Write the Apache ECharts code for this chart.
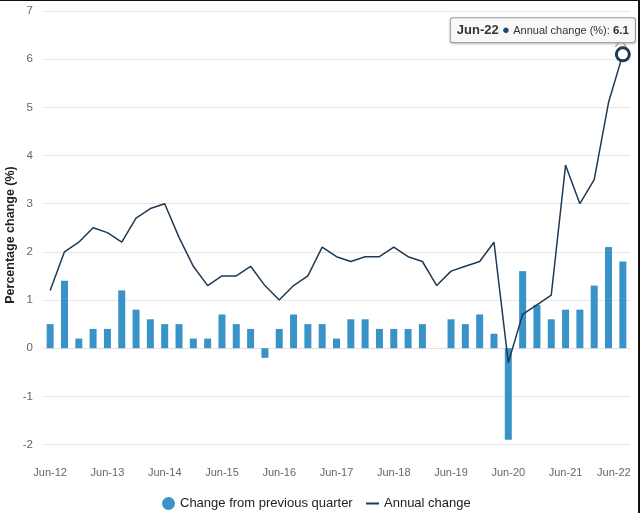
<!DOCTYPE html>
<html>
<head>
<meta charset="utf-8">
<script src="https://cdn.jsdelivr.net/npm/echarts@6/dist/echarts.min.js"></script>
<style>
html,body{margin:0;padding:0;background:#fff;}
#chart{width:640px;height:513px;}
</style>
</head>
<body>
<div id="chart"></div>
<script>
const categories = [
  'Jun-12','Sep-12','Dec-12','Mar-13','Jun-13','Sep-13','Dec-13','Mar-14',
  'Jun-14','Sep-14','Dec-14','Mar-15','Jun-15','Sep-15','Dec-15','Mar-16',
  'Jun-16','Sep-16','Dec-16','Mar-17','Jun-17','Sep-17','Dec-17','Mar-18',
  'Jun-18','Sep-18','Dec-18','Mar-19','Jun-19','Sep-19','Dec-19','Mar-20',
  'Jun-20','Sep-20','Dec-20','Mar-21','Jun-21','Sep-21','Dec-21','Mar-22',
  'Jun-22'
];
const quarterlyChange = [
  0.5,1.4,0.2,0.4,0.4,1.2,0.8,0.6,
  0.5,0.5,0.2,0.2,0.7,0.5,0.4,-0.2,
  0.4,0.7,0.5,0.5,0.2,0.6,0.6,0.4,
  0.4,0.4,0.5,0.0,0.6,0.5,0.7,0.3,
  -1.9,1.6,0.9,0.6,0.8,0.8,1.3,2.1,
  1.8
];
const annualChange = [
  1.2,2.0,2.2,2.5,2.4,2.2,2.7,2.9,
  3.0,2.3,1.7,1.3,1.5,1.5,1.7,1.3,
  1.0,1.3,1.5,2.1,1.9,1.8,1.9,1.9,
  2.1,1.9,1.8,1.3,1.6,1.7,1.8,2.2,
  -0.3,0.7,0.9,1.1,3.8,3.0,3.5,5.1,
  6.1
];
const yMin = -2.3, yMax = 7;
const seriesNames = ['Change from previous quarter', 'Annual change'];

const lastIdx = categories.length - 1;
const chart = echarts.init(document.getElementById('chart'), null, {renderer: 'canvas'});

const FONT = '"Liberation Sans", Arial, Helvetica, sans-serif';
// split line colours: only integer ticks get a visible line
const splitColors = [];
for (let k = 0; k < 10; k++) splitColors.push(k === 3 ? '#e6e6e6' : 'rgba(0,0,0,0)');

const option = {
  animation: false,
  textStyle: {fontFamily: FONT},
  grid: {left: 43, right: 10, top: 11, bottom: 54, containLabel: false, outerBoundsMode: 'none'},
  legend: [
    {
      left: 157, top: 492,
      itemWidth: 13, itemHeight: 13,
      textStyle: {fontSize: 13, color: '#222', fontFamily: FONT},
      data: [{name: seriesNames[0], icon: 'circle'}]
    },
    {
      left: 361, top: 492,
      itemWidth: 13, itemHeight: 2, itemGap: 5,
      textStyle: {fontSize: 13, color: '#222', fontFamily: FONT},
      data: [{name: seriesNames[1], icon: 'rect'}]
    }
  ],
  xAxis: {
    type: 'category',
    data: categories,
    boundaryGap: true,
    axisLine: {show: true, lineStyle: {color: '#e3e3e3', width: 1}},
    axisTick: {show: false},
    axisLabel: {
      interval: 3,
      color: '#666',
      fontSize: 11,
      margin: 8,
      fontFamily: FONT,
      formatter: function (v, i) {
        return i === lastIdx ? '{r|' + v + '}' : v;
      },
      rich: {r: {padding: [0, 18, 0, 0], color: '#666', fontSize: 11, fontFamily: FONT}}
    },
    splitLine: {show: false}
  },
  yAxis: {
    type: 'value',
    min: yMin, max: yMax, interval: 0.1,
    name: 'Percentage change (%)',
    nameLocation: 'middle',
    nameGap: 26,
    nameMoveOverlap: false,
    nameTextStyle: {fontSize: 12.5, fontWeight: 'bold', color: '#222', fontFamily: FONT},
    axisLine: {show: false},
    axisTick: {show: false},
    axisLabel: {
      color: '#666', fontSize: 11.5, margin: 10, fontFamily: FONT,
      formatter: function (v) {
        const r = Math.round(v);
        return Math.abs(v - r) < 1e-6 ? String(r) : '';
      }
    },
    splitLine: {show: true, lineStyle: {color: splitColors, width: 1}}
  },
  series: [
    {
      name: seriesNames[0],
      type: 'bar',
      data: quarterlyChange,
      barWidth: 7,
      itemStyle: {color: '#3a93c8'},
      z: 2
    },
    {
      name: seriesNames[1],
      type: 'line',
      data: annualChange,
      symbol: 'none',
      lineStyle: {color: '#1e3a55', width: 1.5},
      itemStyle: {color: '#1e3a55'},
      z: 3,
      markPoint: {
        silent: true,
        data: [
          {
            coord: [lastIdx, annualChange[lastIdx]],
            symbol: 'path://M0,10 L6,0 L12,10',
            symbolSize: [11, 7],
            symbolOffset: [-2, -11],
            itemStyle: {color: '#f8f8f8', borderColor: '#9a9a9a', borderWidth: 1},
            label: {show: false}
          },
          {
            coord: [lastIdx, annualChange[lastIdx]],
            symbol: 'circle',
            symbolSize: 13,
            itemStyle: {color: '#fff', borderColor: '#1e3a55', borderWidth: 3},
            label: {
              show: true,
              position: 'top',
              distance: 4,
              offset: [-80, 0],
              backgroundColor: '#f8f8f8',
              borderColor: '#9a9a9a',
              borderWidth: 1,
              borderRadius: 2,
              padding: [6, 6, 5, 6],
              shadowColor: 'rgba(0,0,0,0.15)',
              shadowBlur: 3,
              shadowOffsetY: 1,
              formatter: '{d|' + categories[lastIdx] + '} {dot|●} {t|' + seriesNames[1] + ' (%): }{v|' + annualChange[lastIdx].toFixed(1) + '}',
              rich: {
                d: {fontSize: 13, fontWeight: 'bold', color: '#333', fontFamily: FONT},
                dot: {fontSize: 13, color: '#1c4b73', fontFamily: FONT},
                t: {fontSize: 11, color: '#333', fontFamily: FONT},
                v: {fontSize: 11.5, fontWeight: 'bold', color: '#333', fontFamily: FONT}
              }
            }
          }
        ]
      }
    }
  ],
  graphic: [
    {type: 'rect', left: 0, top: 0, shape: {width: 640, height: 1}, style: {fill: '#111'}, silent: true},
    {type: 'rect', right: 0, top: 0, shape: {width: 2, height: 513}, style: {fill: '#111'}, silent: true}
  ]
};
chart.setOption(option);
</script>
</body>
</html>
